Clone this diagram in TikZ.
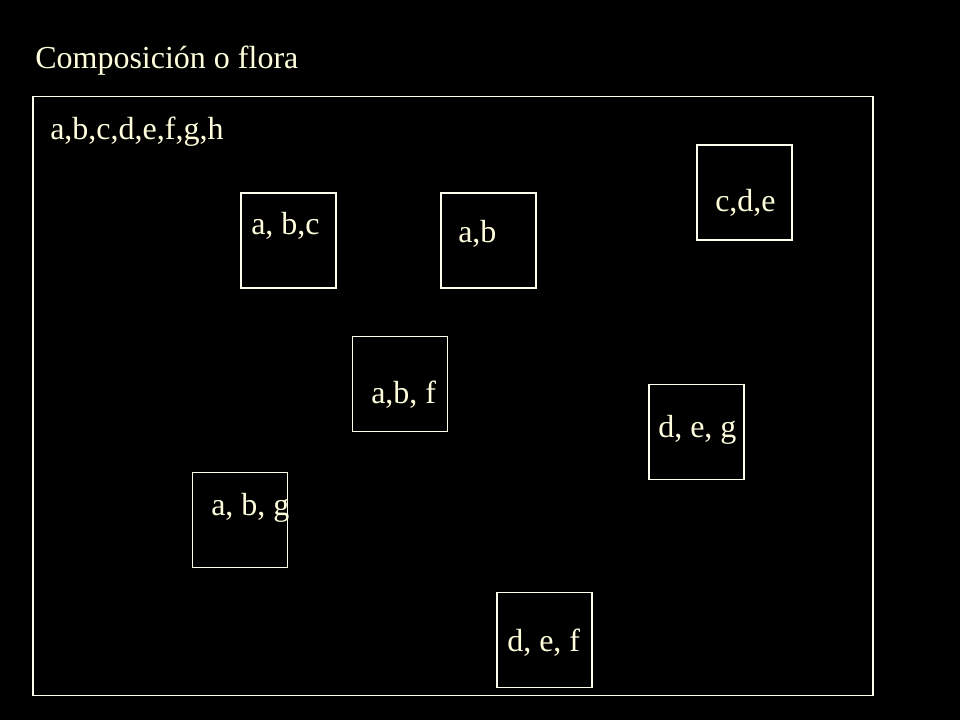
\documentclass[tikz,border=0pt]{standalone}
\usepackage{fontspec}
\setmainfont{Liberation Serif}
\definecolor{txt}{RGB}{255,255,222}
\definecolor{ln}{RGB}{255,255,240}
\begin{document}
\begin{tikzpicture}[x=0.75pt,y=-0.75pt,
  lbl/.style={anchor=base west,inner sep=0pt,text=txt,font=\fontsize{24}{28}\selectfont},
  sq/.style={draw=ln,line width=1.1pt,inner sep=0pt,minimum width=71.5pt,minimum height=71.5pt}]
\fill[black] (0,0) rectangle (960,720);
\useasboundingbox (0,0) rectangle (960,720);
\node[lbl] (title) at (35,69) {Composición o flora};
\node[draw=ln,line width=1.1pt,inner sep=0pt,minimum width=630pt,minimum height=449pt] (frame) at (453,396) {};
\node[lbl] (all) at (50,140) {a,b,c,d,e,f,g,h};
\node[sq] (b1) at (288.5,240.5) {};
\node[lbl] (t1) at (251,235) {a, b,c};
\node[sq] (b2) at (488.5,240.5) {};
\node[lbl] (t2) at (458,243) {a,b};
\node[sq] (b3) at (744.5,192.5) {};
\node[lbl] (t3) at (715,211.5) {c,d,e};
\node[sq] (b4) at (400,384) {};
\node[lbl] (t4) at (371,403) {a,b, f};
\node[sq] (b5) at (696.5,432) {};
\node[lbl] (t5) at (658,437) {d, e, g};
\node[sq] (b6) at (240,520) {};
\node[lbl] (t6) at (211,515) {a, b, g};
\node[sq] (b7) at (544.5,640) {};
\node[lbl] (t7) at (507,651.5) {d, e, f};
\end{tikzpicture}
\end{document}
